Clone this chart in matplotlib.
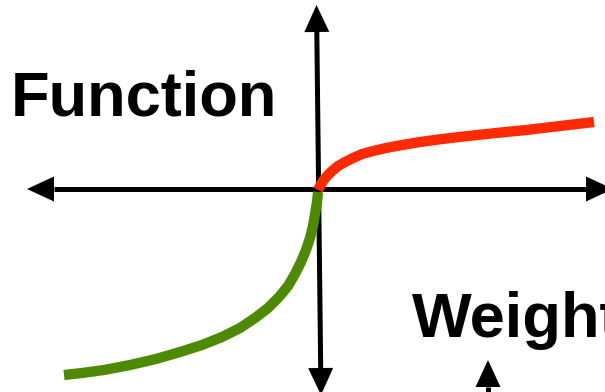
import numpy as np
import matplotlib.pyplot as plt
from matplotlib.patches import Polygon

# pixel-space diagram, y grows downward
W, H = 605, 392

# red branch (positive side)
red_x = [318, 320, 323, 327, 332, 338, 345, 353, 362, 373, 386, 402, 420,
         442, 468, 496, 526, 560, 594]
red_y = [190, 186, 181, 176, 171, 166, 162, 158, 154, 151, 148, 145, 142,
         139, 136, 133, 130, 126, 122]

# green branch (negative side)
green_x = [318, 317, 315, 313, 310, 306, 301, 295, 288, 279, 268, 255, 240,
           222, 202, 180, 156, 130, 104, 82, 64]
green_y = [192, 202, 214, 226, 238, 250, 262, 274, 286, 297, 308, 318, 328,
           337, 345, 352, 359, 365, 370, 373, 375]

# axes arrows: (tail, tip, heads at both ends?)
axis_arrows = [
    ((27, 189), (613, 189), True),
    ((316.5, 5), (321, 395), True),
    ((488, 400), (488, 360), False),
]
HEAD_LEN = 27
HEAD_HALF = 12.5

labels = [("Function", 11, 115), ("Weight", 412, 337)]

fig = plt.figure(figsize=(W / 100, H / 100), dpi=100)
ax = fig.add_axes([0, 0, 1, 1])
ax.set_xlim(0, W)
ax.set_ylim(H, 0)
ax.axis('off')


def head(tip, tail):
    tip = np.array(tip, float)
    d = tip - np.array(tail, float)
    d /= np.hypot(*d)
    n = np.array([-d[1], d[0]])
    base = tip - d * HEAD_LEN
    ax.add_patch(Polygon([tip, base + n * HEAD_HALF, base - n * HEAD_HALF],
                         closed=True, color='black', lw=0, zorder=2))
    return base


for a, b, both in axis_arrows:
    end_b = head(b, a)
    end_a = head(a, b) if both else a
    ax.plot([end_a[0], end_b[0]], [end_a[1], end_b[1]], color='black',
            lw=3.6, solid_capstyle='butt', zorder=1)

ax.plot(red_x, red_y, color='#ff2a00', lw=7.4, solid_capstyle='butt',
        solid_joinstyle='round', zorder=3)
ax.plot(green_x, green_y, color='#4e8a00', lw=7.4, solid_capstyle='butt',
        solid_joinstyle='round', zorder=3)

for txt, x, y in labels:
    ax.text(x, y, txt, fontsize=45.5, fontweight='bold', family='Liberation Sans',
            ha='left', va='baseline', color='black', zorder=4)

fig.savefig('out.png', dpi=100)
